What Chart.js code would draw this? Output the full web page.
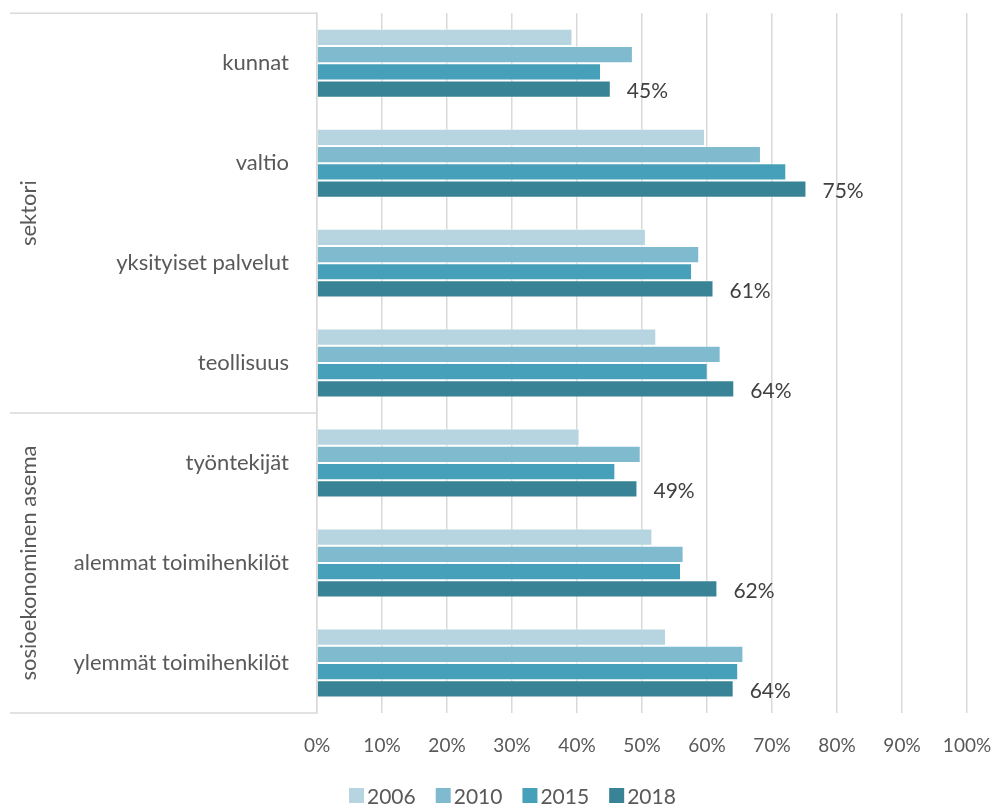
<!DOCTYPE html>
<html>
<head>
<meta charset="utf-8">
<script src="https://cdn.jsdelivr.net/npm/chart.js@4.4.1/dist/chart.umd.min.js"></script>
<style>
  html, body { margin: 0; padding: 0; background: #fff; }
</style>
</head>
<body>
<canvas id="chart" width="995" height="805"></canvas>
<script>
// data (% shares)
const categories = ['kunnat', 'valtio', 'yksityiset palvelut', 'teollisuus', 'työntekijät', 'alemmat toimihenkilöt', 'ylemmät toimihenkilöt'];
const years = ['2006', '2010', '2015', '2018'];
const v2006 = [39.3, 59.7, 50.6, 52.2, 40.4, 51.6, 53.7];
const v2010 = [48.6, 68.3, 58.8, 62.1, 49.8, 56.4, 65.6];
const v2015 = [43.7, 72.2, 57.7, 60.1, 45.9, 56.0, 64.8];
const v2018 = [45.2, 75.3, 61.0, 64.2, 49.3, 61.6, 64.1];
const groupNames = ['sektori', 'sosioekonominen asema'];
const groupFirst = [0, 4];
const groupLast = [3, 6];

const COLORS = ['#b7d5e0', '#7fbacf', '#46a0b9', '#388396'];
const FONT = 'Lato, "Open Sans", sans-serif';
const GRID = '#d9d9d9';

// group separators, rotated group names, 2018 labels, legend
const extras = {
    id: 'extras',
    afterDatasetsDraw(chart) {
        const ctx = chart.ctx;
        const meta = chart.getDatasetMeta(3);
        ctx.save();
        ctx.font = '21px ' + FONT;
        ctx.fillStyle = '#404040';
        ctx.textAlign = 'left';
        ctx.textBaseline = 'middle';
        meta.data.forEach((bar, i) => ctx.fillText(Math.round(v2018[i]) + '%', bar.x + 16, bar.y + 2));
        ctx.restore();
    },
    afterDraw(chart) {
        const ctx = chart.ctx;
        const a = chart.chartArea;
        const y = chart.scales.y;
        const step = y.getPixelForValue(1) - y.getPixelForValue(0);

        ctx.save();
        ctx.strokeStyle = GRID;
        ctx.lineWidth = 1.5;
        const lines = [a.top, a.bottom];
        groupFirst.forEach((f, g) => { if (g > 0) lines.push(y.getPixelForValue(f) - step / 2); });
        lines.forEach((py) => {
            ctx.beginPath();
            ctx.moveTo(10, py);
            ctx.lineTo(a.left, py);
            ctx.stroke();
        });

        ctx.font = '22px ' + FONT;
        ctx.fillStyle = '#595959';
        ctx.textAlign = 'center';
        ctx.textBaseline = 'middle';
        groupNames.forEach((name, g) => {
            const top = y.getPixelForValue(groupFirst[g]) - step / 2;
            const bot = y.getPixelForValue(groupLast[g]) + step / 2;
            ctx.save();
            ctx.translate(29, (top + bot) / 2);
            ctx.rotate(-Math.PI / 2);
            ctx.fillText(name, 0, 0);
            ctx.restore();
        });

        // legend
        let x = 349;
        ctx.font = '21px ' + FONT;
        ctx.textAlign = 'left';
        years.forEach((yr, i) => {
            ctx.fillStyle = COLORS[i];
            ctx.fillRect(x, 788, 15, 15);
            ctx.fillStyle = '#595959';
            ctx.fillText(yr, x + 18, 797);
            x += 18 + ctx.measureText(yr).width + 20;
        });
        ctx.restore();
    },
};

const seriesValues = [v2006, v2010, v2015, v2018];

new Chart(document.getElementById('chart'), {
    type: 'bar',
    data: {
        labels: categories,
        datasets: years.map((yr, i) => ({
            label: yr,
            data: seriesValues[i],
            backgroundColor: COLORS[i],
            borderColor: 'rgba(255,255,255,0.5)',
            borderWidth: 1,
            categoryPercentage: 0.69,
            barPercentage: 1,
        })),
    },
    options: {
        indexAxis: 'y',
        responsive: false,
        animation: false,
        devicePixelRatio: 1,
        layout: { padding: { left: 0, right: 28, top: 12, bottom: 0 } },
        plugins: { legend: { display: false }, tooltip: { enabled: false } },
        scales: {
            x: {
                min: 0, max: 100,
                ticks: {
                    stepSize: 10,
                    padding: 0,
                    color: '#595959',
                    font: { family: FONT, size: 19 },
                    callback: (v) => v + '%',
                    maxRotation: 0,
                },
                grid: { color: GRID, lineWidth: 1.5, drawTicks: true, tickLength: 21, tickColor: 'rgba(0,0,0,0)' },
                border: { display: false },
                afterFit: (s) => { s.height = 92; },
            },
            y: {
                ticks: {
                    padding: 0,
                    color: '#595959',
                    font: { family: FONT, size: 22 },
                },
                grid: { display: true, drawOnChartArea: false, drawTicks: true, tickLength: 28, tickColor: 'rgba(0,0,0,0)' },
                border: { display: true, color: GRID, width: 1.5 },
                afterFit: (s) => { s.width = 317; },
            },
        },
    },
    plugins: [extras],
});
</script>
</body>
</html>
